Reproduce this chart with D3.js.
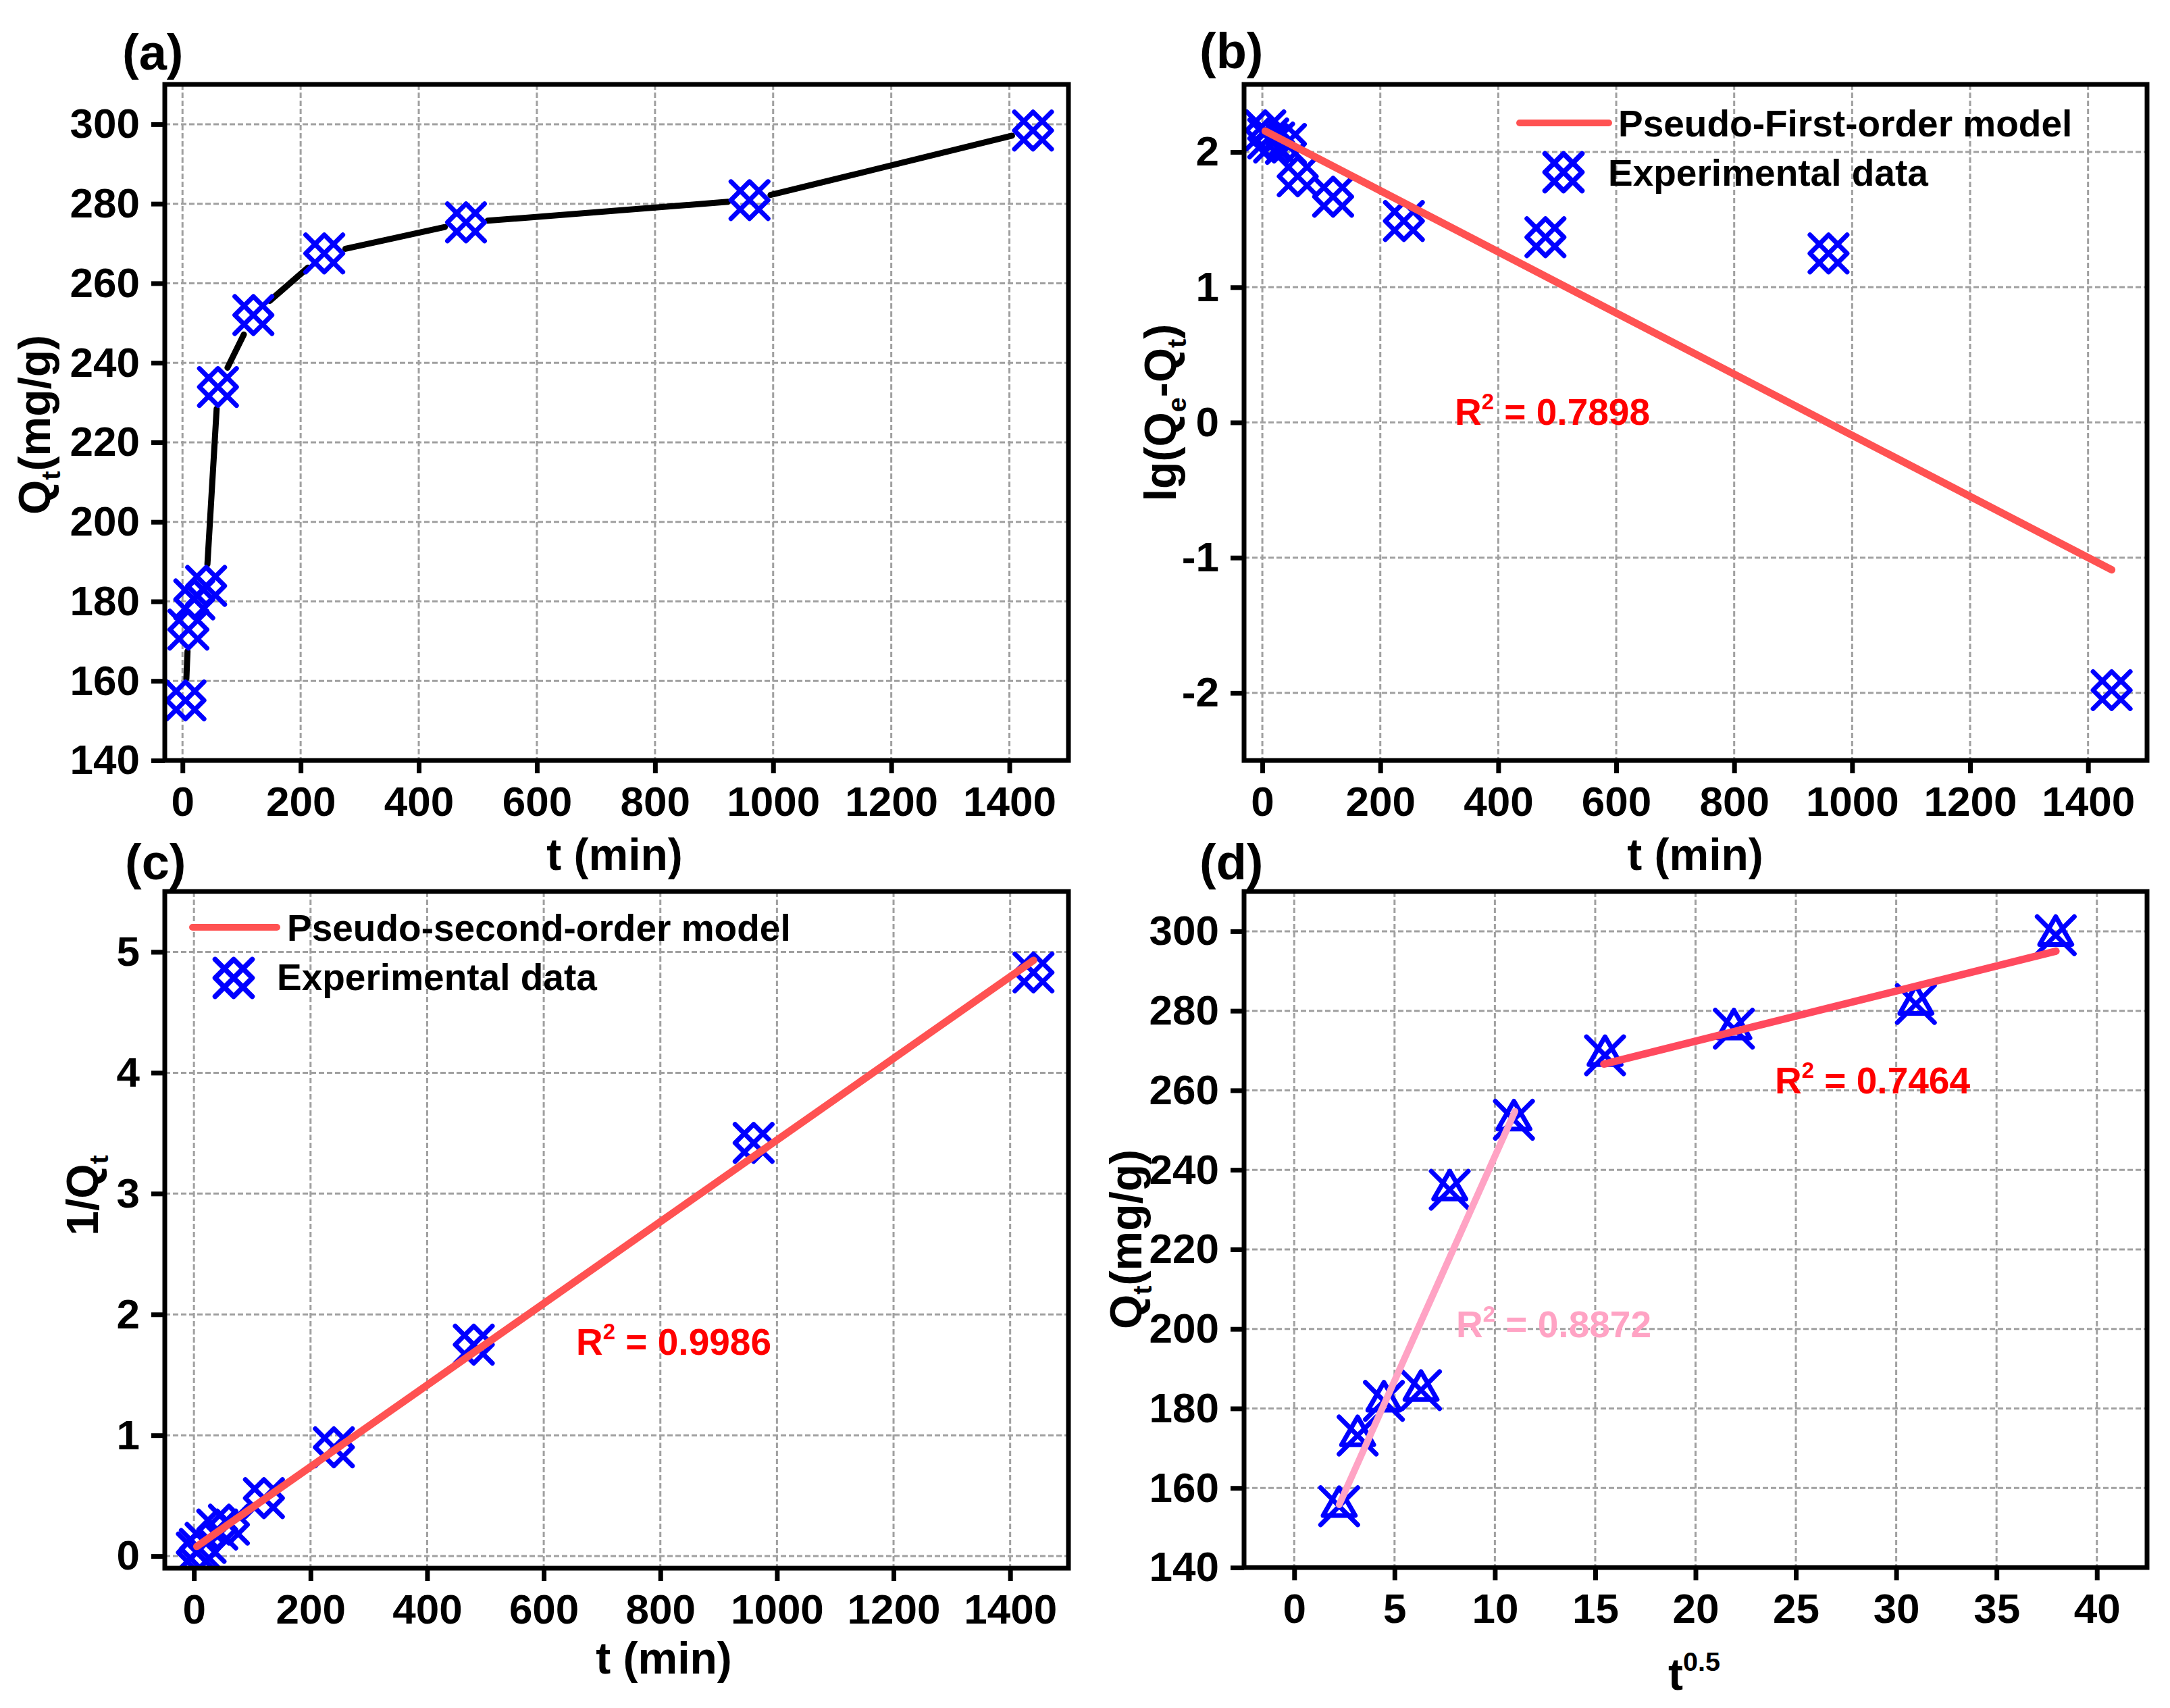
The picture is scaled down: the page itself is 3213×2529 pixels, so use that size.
<!DOCTYPE html>
<html><head><meta charset="utf-8">
<script src="https://cdn.jsdelivr.net/npm/d3@7"></script>
<style>
body{margin:0;background:#fff}
svg text{font-family:"Liberation Sans", Arial, Helvetica, sans-serif;font-weight:bold;fill:#000}
</style>
</head><body>
<svg id="fig" width="3213" height="2529"></svg>
<script>
// ---------------- data ----------------
const tMin      = [5, 10, 20, 40, 60, 120, 240, 480, 960, 1440];          // contact time (min)
const qtA       = [155.1, 172.9, 180.5, 183.9, 233.9, 252.0, 267.5, 275.3, 280.9, 298.4];
const lgB       = [2.16, 2.10, 2.07, 2.06, 1.82, 1.67, 1.49, 1.37, 1.25, -1.98];
const tqC       = [0.03, 0.06, 0.11, 0.22, 0.26, 0.48, 0.90, 1.75, 3.42, 4.83];
const sqrtTD    = [2.24, 3.16, 4.47, 6.32, 7.75, 10.95, 15.49, 21.91, 30.98, 37.95];
const qtD       = [155.4, 173.2, 181.9, 184.6, 235.0, 252.6, 268.8, 275.5, 281.7, 299.0];
// fitted lines: [start, end]
const fitBx = [5, 1440],   fitBy = [2.155, -1.09];
const fitCx = [5, 1440],   fitCy = [0.08, 4.93];
const fitD1x = [2.24, 11.0],  fitD1y = [155.8, 254.7];
const fitD2x = [15.43, 37.96], fitD2y = [266.6, 295.0];
// tick values
const xTicksTime = [0, 200, 400, 600, 800, 1000, 1200, 1400];
const yTicksQ    = [140, 160, 180, 200, 220, 240, 260, 280, 300];
const yTicksLg   = [-2, -1, 0, 1, 2];
const yTicksC    = [0, 1, 2, 3, 4, 5];
const xTicksD    = [0, 5, 10, 15, 20, 25, 30, 35, 40];
// text
const r2B = "0.7898", r2C = "0.9986", r2D1 = "0.8872", r2D2 = "0.7464";
const legendB = ["Pseudo-First-order model", "Experimental data"];
const legendC = ["Pseudo-second-order model", "Experimental data"];

// ---------------- styling ----------------
const BLUE = "#0000ff", RED_LINE = "#ff5252", RED_D = "#ff4a5e", PINK = "#ffa3c4", RED_TXT = "#ff0000";
const GRID = "#a0a0a0";
const TICK_FS = 62, TITLE_FS = 66, LABEL_FS = 74, LEG_FS = 55, R2_FS = 55;

const svg = d3.select("#fig");
svg.append("rect").attr("width", 3213).attr("height", 2529).attr("fill", "#fff");

function markerXD(s) { // X + diamond
  return `M${-s},${-s}L${s},${s}M${-s},${s}L${s},${-s}M0,${-s}L${s},0L0,${s}L${-s},0Z`;
}
function markerXT(s) { // X + up triangle
  const a = s * 0.866, b = s * 0.5;
  return `M${-s},${-s}L${s},${s}M${-s},${s}L${s},${-s}M0,${-s}L${a},${b}L${-a},${b}Z`;
}

function rich(sel, parts, fs) {
  // parts: [text, mode] mode: 0 normal, 1 sub, 2 sup
  let shift = 0;
  parts.forEach(([t, m]) => {
    const target = m === 1 ? 0.22 * fs : (m === 2 ? -0.42 * fs : 0);
    const ts = sel.append("tspan").text(t).attr("dy", target - shift);
    if (m) ts.attr("font-size", (0.6 * fs).toFixed(1));
    shift = target;
  });
}

let clipId = 0;
function panel(cfg) {
  const g = svg.append("g");
  const x = d3.scaleLinear().domain(cfg.xd).range([cfg.x0, cfg.x1]);
  const y = d3.scaleLinear().domain(cfg.yd).range([cfg.y1, cfg.y0]);
  const id = "clip" + (clipId++);
  g.append("clipPath").attr("id", id).append("rect")
    .attr("x", cfg.x0).attr("y", cfg.y0).attr("width", cfg.x1 - cfg.x0).attr("height", cfg.y1 - cfg.y0);
  // grid
  const grid = g.append("g").attr("stroke", GRID).attr("stroke-width", 3).attr("stroke-dasharray", "8,4");
  grid.selectAll(".vx").data(cfg.xt).join("line")
    .attr("x1", d => x(d)).attr("x2", d => x(d)).attr("y1", cfg.y0).attr("y2", cfg.y1);
  grid.selectAll(".hy").data(cfg.yt).join("line")
    .attr("y1", d => y(d)).attr("y2", d => y(d)).attr("x1", cfg.x0).attr("x2", cfg.x1);
  const plot = g.append("g").attr("clip-path", `url(#${id})`);
  // axes
  const ax = g.append("g").attr("transform", `translate(0,${cfg.y1})`)
    .call(d3.axisBottom(x).tickValues(cfg.xt).tickFormat(d => String(d)).tickSize(19).tickSizeOuter(0).tickPadding(19));
  const ay = g.append("g").attr("transform", `translate(${cfg.x0},0)`)
    .call(d3.axisLeft(y).tickValues(cfg.yt).tickFormat(d => String(d)).tickSize(20).tickSizeOuter(0).tickPadding(17));
  [ax, ay].forEach(a => {
    a.attr("font-size", TICK_FS).attr("font-family", null);
    a.select(".domain").remove();
    a.selectAll(".tick line").attr("stroke", "#000").attr("stroke-width", 7);
    a.selectAll(".tick text").attr("fill", "#000");
  });
  // frame
  g.append("rect").attr("x", cfg.x0).attr("y", cfg.y0).attr("width", cfg.x1 - cfg.x0).attr("height", cfg.y1 - cfg.y0)
    .attr("fill", "none").attr("stroke", "#000").attr("stroke-width", 7).attr("class", "frame");
  // panel label
  g.append("text").attr("x", cfg.lx).attr("y", cfg.ly).attr("font-size", LABEL_FS).text(cfg.label);
  // x title
  const xt = g.append("text").attr("x", cfg.xtx).attr("y", cfg.xty).attr("font-size", TITLE_FS)
    .attr("text-anchor", cfg.xtAnchor || "middle");
  rich(xt, cfg.xTitle, TITLE_FS);
  const yt = g.append("text").attr("transform", `translate(${cfg.ytx},${cfg.yty}) rotate(-90)`)
    .attr("font-size", TITLE_FS).attr("text-anchor", "middle");
  rich(yt, cfg.yTitle, TITLE_FS);
  return {g, x, y, plot};
}

function drawMarkers(p, xs, ys, path) {
  p.plot.append("g").selectAll("path").data(xs).join("path")
    .attr("transform", (d, i) => `translate(${p.x(d)},${p.y(ys[i])})`)
    .attr("d", path).attr("fill", "none").attr("stroke", BLUE).attr("stroke-width", 7)
    .attr("stroke-linecap", "round").attr("stroke-linejoin", "round");
}
function drawFit(p, xs, ys, color, w) {
  p.plot.append("path").datum(xs.map((d, i) => [d, ys[i]]))
    .attr("d", d3.line().x(d => p.x(d[0])).y(d => p.y(d[1])))
    .attr("fill", "none").attr("stroke", color).attr("stroke-width", w).attr("stroke-linecap", "round");
}
function r2Text(p, xx, yy, val, color) {
  const t = p.g.append("text").attr("x", xx).attr("y", yy).attr("font-size", R2_FS).attr("fill", color);
  rich(t, [["R", 0], ["2", 2], [" = " + val, 0]], R2_FS);
  t.selectAll("tspan").attr("fill", color);
}
function legend(p, cfg, texts, markerPath) {
  const L = p.g.append("g");
  L.append("line").attr("x1", cfg.lx1).attr("x2", cfg.lx2).attr("y1", cfg.ly).attr("y2", cfg.ly)
    .attr("stroke", RED_LINE).attr("stroke-width", 10).attr("stroke-linecap", "round");
  L.append("text").attr("x", cfg.t1x).attr("y", cfg.t1y).attr("font-size", LEG_FS).text(texts[0]);
  L.append("path").attr("transform", `translate(${cfg.mx},${cfg.my})`).attr("d", markerPath)
    .attr("fill", "none").attr("stroke", BLUE).attr("stroke-width", 7.5)
    .attr("stroke-linecap", "round").attr("stroke-linejoin", "round");
  L.append("text").attr("x", cfg.t2x).attr("y", cfg.t2y).attr("font-size", LEG_FS).text(texts[1]);
}

const S = 27.5;
// ---------------- (a) ----------------
const A = panel({x0: 244, x1: 1582, y0: 125, y1: 1126, xd: [-30, 1500], yd: [140, 310],
  xt: xTicksTime, yt: yTicksQ, label: "(a)", lx: 181, ly: 103,
  xTitle: [["t (min)", 0]], xtx: 910, xty: 1288,
  yTitle: [["Q", 0], ["t", 1], ["(mg/g)", 0]], ytx: 74, yty: 629});
{
  const pts = tMin.map((d, i) => [A.x(d), A.y(qtA[i])]);
  const gap = 32;
  const segs = [];
  for (let i = 0; i < pts.length - 1; i++) {
    const [xa, ya] = pts[i], [xb, yb] = pts[i + 1];
    const L = Math.hypot(xb - xa, yb - ya);
    if (L > 2 * gap + 2) {
      const ux = (xb - xa) / L, uy = (yb - ya) / L;
      segs.push([[xa + ux * gap, ya + uy * gap], [xb - ux * gap, yb - uy * gap]]);
    }
  }
  A.plot.append("g").selectAll("path").data(segs).join("path")
    .attr("d", d => d3.line()(d)).attr("stroke", "#000").attr("stroke-width", 9)
    .attr("stroke-linecap", "round").attr("fill", "none");
  drawMarkers(A, tMin, qtA, markerXD(S));
}
// ---------------- (b) ----------------
const B = panel({x0: 1842, x1: 3179, y0: 125, y1: 1126, xd: [-31, 1500], yd: [-2.5, 2.5],
  xt: xTicksTime, yt: yTicksLg, label: "(b)", lx: 1776, ly: 101,
  xTitle: [["t (min)", 0]], xtx: 2510, xty: 1288,
  yTitle: [["lg(Q", 0], ["e", 1], ["-Q", 0], ["t", 1], [")", 0]], ytx: 1741, yty: 611});
drawMarkers(B, tMin, lgB, markerXD(S));
drawFit(B, fitBx, fitBy, RED_LINE, 11);
r2Text(B, 2154, 629, r2B, RED_TXT);
legend(B, {lx1: 2250, lx2: 2382, ly: 182, t1x: 2396, t1y: 202, mx: 2315, my: 255, t2x: 2381, t2y: 275}, legendB, markerXD(S));
// ---------------- (c) ----------------
const C = panel({x0: 244, x1: 1582, y0: 1320, y1: 2322, xd: [-50, 1500], yd: [-0.1, 5.5],
  xt: xTicksTime, yt: yTicksC, label: "(c)", lx: 185, ly: 1302,
  xTitle: [["t (min)", 0]], xtx: 983, xty: 2478,
  yTitle: [["1/Q", 0], ["t", 1]], ytx: 145, yty: 1770});
drawMarkers(C, tMin, tqC, markerXD(S));
drawFit(C, fitCx, fitCy, RED_LINE, 11);
r2Text(C, 853, 2006, r2C, RED_TXT);
legend(C, {lx1: 285, lx2: 410, ly: 1373, t1x: 425, t1y: 1393, mx: 346, my: 1448, t2x: 410, t2y: 1466}, legendC, markerXD(S));
// ---------------- (d) ----------------
const D = panel({x0: 1842, x1: 3179, y0: 1320, y1: 2321, xd: [-2.5, 42.5], yd: [140, 310],
  xt: xTicksD, yt: yTicksQ, label: "(d)", lx: 1776, ly: 1302,
  xTitle: [["t", 0], ["0.5", 2]], xtx: 2470, xty: 2502, xtAnchor: "start",
  yTitle: [["Q", 0], ["t", 1], ["(mg/g)", 0]], ytx: 1690, yty: 1835});
drawMarkers(D, sqrtTD, qtD, markerXT(S));
drawFit(D, fitD1x, fitD1y, PINK, 10);
drawFit(D, fitD2x, fitD2y, RED_D, 11);
r2Text(D, 2156, 1980, r2D1, PINK);
r2Text(D, 2628, 1619, r2D2, RED_TXT);
// frames on top
svg.selectAll("rect.frame").raise();
</script>
</body></html>
